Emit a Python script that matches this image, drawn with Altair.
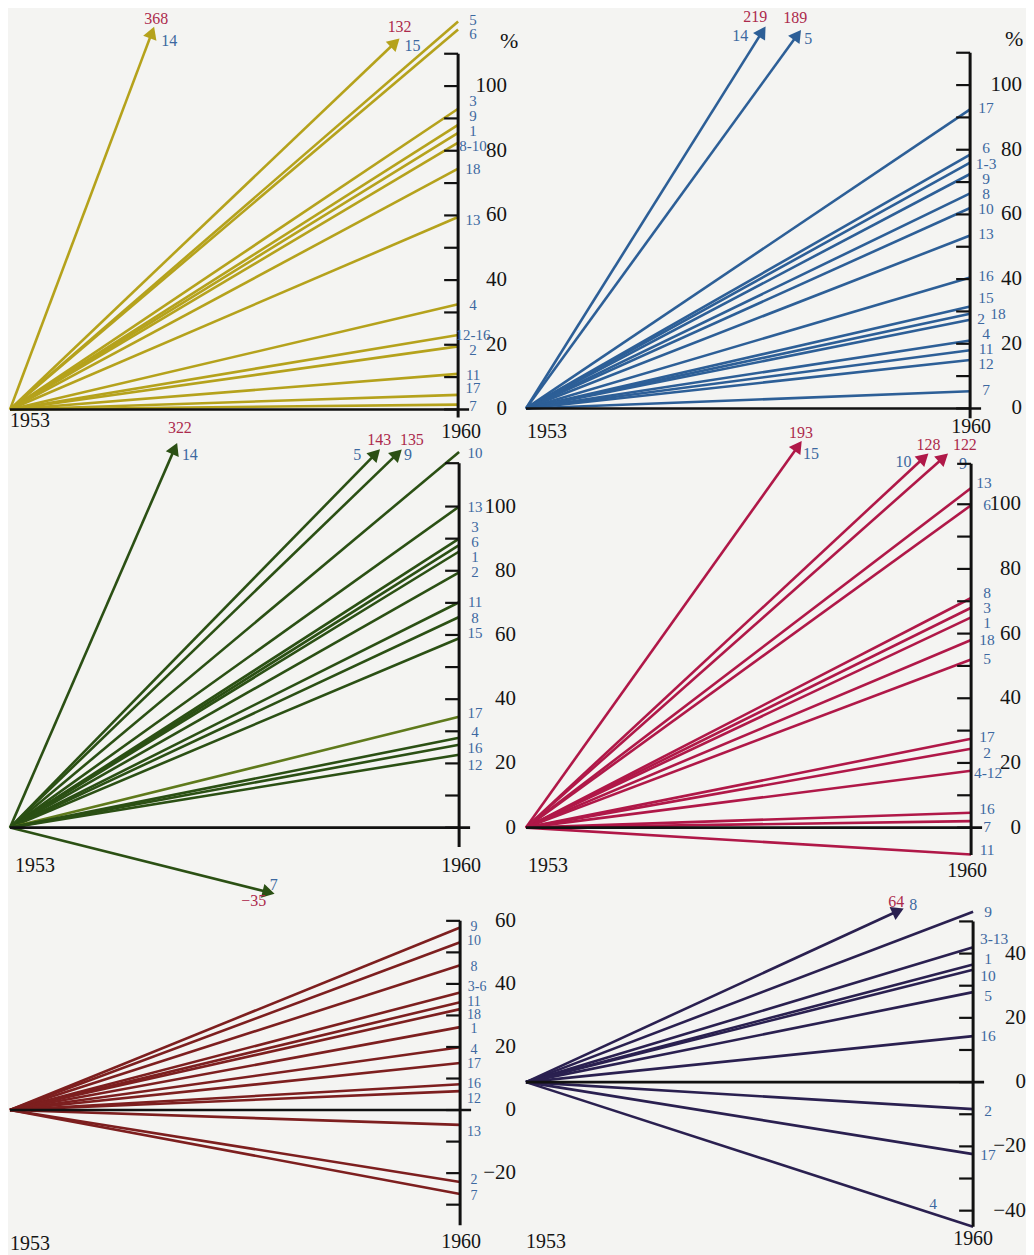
import math
import altair as alt
import pandas as pd

# ---------------- data ----------------
# Panel 1 (top left)
p1_names = ["5", "6", "3", "9", "1", "8-10", "18", "13", "4", "12-16", "2", "11", "17", "7"]
p1_values = [120, 117.5, 93, 88, 85.5, 82.5, 74.5, 59.5, 32.5, 23, 19.5, 11, 4.5, 1.5]
p1_label_y = [120.4, 116, 95.4, 90.7, 86.1, 81.5, 74.4, 58.6, 32.4, 23.1, 18.5, 10.8, 6.5, 1.2]
p1_arrow_names = ["14", "15"]
p1_arrow_values = [368, 132]

# Panel 2 (top right)
p2_names = ["17", "6", "1-3", "9", "8", "10", "13", "16", "15", "18", "2", "4", "11", "12", "7"]
p2_values = [92.5, 78.5, 76, 72.5, 66.5, 62, 53.5, 40.5, 31.5, 29.3, 27.4, 21, 18, 15, 5.3]
p2_label_y = [92.9, 80.6, 75.6, 71, 66.4, 61.7, 54, 41, 34.3, 29.3, 27.8, 23.1, 18.5, 13.6, 5.6]
p2_arrow_names = ["14", "5"]
p2_arrow_values = [219, 189]

# Panel 3 (middle left)
p3_names = ["10", "13", "3", "6", "1", "2", "11", "8", "15", "17", "4", "16", "12"]
p3_values = [117, 100, 90, 88, 86, 79.5, 70.2, 65.6, 59, 34.5, 28, 25.8, 22.7]
p3_label_y = [116.6, 100, 93.6, 88.9, 84.2, 79.5, 70.3, 65.3, 60.6, 35.7, 29.8, 24.9, 19.6]
p3_arrow_names = ["14", "5", "9", "7"]
p3_arrow_values = [322, 143, 135, -35]

# Panel 4 (middle right)
p4_names = ["13", "6", "8", "3", "1", "18", "5", "17", "2", "4-12", "16", "7", "11"]
p4_values = [105, 99.7, 71, 68, 65, 58, 52, 27.5, 24.4, 17.6, 4.6, 2, -8.3]
p4_label_y = [106.5, 99.7, 72.5, 67.9, 63.3, 58, 52.2, 28.1, 23.1, 17, 5.9, 0.3, -7.0]
p4_arrow_names = ["15", "10", "9"]
p4_arrow_values = [193, 128, 122]

# Panel 5 (bottom left)
p5_names = ["9", "10", "8", "3-6", "11", "18", "1", "4", "17", "16", "12", "13", "2", "7"]
p5_values = [57.9, 53.2, 45.9, 37.3, 34.2, 32, 26.3, 19.9, 14.9, 8.2, 6, -4.7, -22.8, -26.6]
p5_label_y = [58.2, 53.6, 45.3, 38.9, 34.3, 30.0, 25.6, 19, 14.6, 8.4, 3.6, -7, -22.3, -27.2]
p5_arrow_names = []
p5_arrow_values = []

# Panel 6 (bottom right)
p6_names = ["9", "3-13", "1", "10", "5", "16", "2", "17", "4"]
p6_values = [53, 42, 36.6, 35, 28, 14.3, -8.4, -22.4, -45]
p6_label_y = [52.8, 44.4, 38.2, 32.9, 26.7, 14.3, -9, -22.7, -37.9]
p6_arrow_names = ["8"]
p6_arrow_values = [64]

# axis tick labels
p1_tick_labels = [0, 20, 40, 60, 80, 100]
p2_tick_labels = [0, 20, 40, 60, 80, 100]
p3_tick_labels = [0, 20, 40, 60, 80, 100]
p4_tick_labels = [0, 20, 40, 60, 80, 100]
p5_tick_labels = [-20, 0, 20, 40, 60]
p6_tick_labels = [-40, -20, 0, 20, 40]

# ---------------- layout / style ----------------
FONT = "Liberation Serif"
BLUE_TXT = "#3c68a0"
RED_TXT = "#ac2a4c"
BG = "#f4f4f2"

G = [
    dict(cell=(8, 8, 509, 417), origin=(10, 409), axis_x=459, s=3.24, color="#b5a21c",
         axis_range=(-2.5, 110), ticks=list(range(0, 111, 10)), tick_dx=49,
         label_dx=15, label_size=15, over={}, color_over={},
         arrows=[(116, (5, -15), (18, 7)), (113, (6, -17), (19, 2))],
         y1953=(20, 12), y1960=(3, 23), pct=(51, -369)),
    dict(cell=(517, 8, 509, 417), origin=(527, 408), axis_x=972, s=3.24, color="#2d5f97",
         axis_range=(-3, 110), ticks=list(range(0, 111, 10)), tick_dx=52,
         label_dx=16, label_size=15.5, over={"18": 28, "2": 11}, color_over={},
         arrows=[(116, (-6, -16), (-21, 3)), (115, (-1, -19), (12, 2))],
         y1953=(21, 24), y1960=(1, 19), pct=(44, -370)),
    dict(cell=(8, 425, 509, 455), origin=(10, 828), axis_x=460, s=3.217, color="#2b5014",
         axis_range=(-6, 113.5), ticks=list(range(0, 101, 10)) + [113.5], tick_dx=57,
         label_dx=16, label_size=15, over={}, color_over={"17": "#5f7a1c"},
         arrows=[(117.5, (6, -22), (16, 5)), (116, (5, -15), (-17, 0)),
                 (116, (16, -15), (12, 0)), (-20, (-13, 9), (7, -7))],
         y1953=(25, 38), y1960=(2, 38), pct=None),
    dict(cell=(517, 425, 509, 455), origin=(527, 828), axis_x=973, s=3.24, color="#b01848",
         axis_range=(-8.5, 112.5), ticks=list(range(0, 101, 10)) + [112.5], tick_dx=50,
         label_dx=16, label_size=15.5, over={"4-12": 17, "13": 13}, color_over={},
         arrows=[(117.5, (4, -15), (14, 6)), (114, (6, -14), (-19, 3)), (114, (23, -14), (21, 5))],
         y1953=(22, 38), y1960=(-4, 43), pct=None),
    dict(cell=(8, 880, 509, 375), origin=(10, 1111), axis_x=461, s=3.16, color="#7d1f1f",
         axis_range=(-36.5, 60), ticks=list(range(-30, 61, 10)), tick_dx=56,
         label_dx=14, label_size=14, over={"3-6": 17}, color_over={},
         arrows=[],
         y1953=(20, 134), y1960=(1, 132), pct=None),
    dict(cell=(517, 880, 509, 375), origin=(527, 1083), axis_x=975, s=3.22, color="#2a2050",
         axis_range=(-45, 50), ticks=list(range(-40, 51, 10)), tick_dx=53,
         label_dx=15, label_size=15.5, over={"3-13": 21, "4": -40}, color_over={},
         arrows=[(53, (0, -10), (17, -7))],
         y1953=(20, 160), y1960=(0, 157), pct=None),
]

PANELS = [
    (p1_names, p1_values, p1_label_y, p1_arrow_names, p1_arrow_values, p1_tick_labels),
    (p2_names, p2_values, p2_label_y, p2_arrow_names, p2_arrow_values, p2_tick_labels),
    (p3_names, p3_values, p3_label_y, p3_arrow_names, p3_arrow_values, p3_tick_labels),
    (p4_names, p4_values, p4_label_y, p4_arrow_names, p4_arrow_values, p4_tick_labels),
    (p5_names, p5_values, p5_label_y, p5_arrow_names, p5_arrow_values, p5_tick_labels),
    (p6_names, p6_values, p6_label_y, p6_arrow_names, p6_arrow_values, p6_tick_labels),
]


def fmt_num(v):
    return ("\u2212" + str(-v)) if v < 0 else str(v)


def build_panel(g, names, values, label_y, a_names, a_values, tick_labels):
    X0, Y0, W, H = g["cell"]
    ox, oy = g["origin"]
    s = g["s"]
    ppy = (g["axis_x"] - ox) / 7.0
    xmin = 1953 - (ox - X0) / ppy
    xmax = xmin + W / ppy
    ymax = (oy - Y0) / s
    ymin = ymax - H / s
    xs = alt.Scale(domain=[xmin, xmax], nice=False, zero=False)
    ys = alt.Scale(domain=[ymin, ymax], nice=False, zero=False)

    def X(f):
        return alt.X(f, type="quantitative", scale=xs, axis=None)

    def Y(f):
        return alt.Y(f, type="quantitative", scale=ys, axis=None)

    def rule_layer(df, width, color=None):
        enc = dict(x=X("x0"), y=Y("y0"), x2="x1:Q", y2="y1:Q")
        if color is None:
            enc["color"] = alt.Color("col:N", scale=None)
            return alt.Chart(df).mark_rule(strokeWidth=width, strokeCap="butt").encode(**enc)
        return alt.Chart(df).mark_rule(strokeWidth=width, color=color, strokeCap="butt").encode(**enc)

    def text_layer(df, color, size, align="center"):
        return alt.Chart(df).mark_text(font=FONT, fontSize=size, color=color, align=align,
                                       baseline="middle").encode(x=X("x"), y=Y("y"), text="t:N")

    layers = []
    # data lines
    lines = pd.DataFrame({
        "x0": 1953.0, "y0": 0.0, "x1": 1960.0, "y1": values,
        "col": [g["color_over"].get(n, g["color"]) for n in names],
    })
    layers.append(rule_layer(lines, 2.6))

    # arrows (off the scale)
    if a_names:
        rows, heads, red, blue = [], [], [], []
        for n, v, (cut, roff, boff) in zip(a_names, a_values, g["arrows"]):
            tx = 1953 + 7.0 * cut / v
            rows.append(dict(x0=1953.0, y0=0.0, x1=tx, y1=cut, col=g["color"]))
            ang = (math.degrees(math.atan2(7 * ppy, v * s)) + 360) % 360
            heads.append(dict(x=tx, y=cut, ang=ang))
            red.append(dict(x=tx + roff[0] / ppy, y=cut - roff[1] / s, t=fmt_num(v)))
            blue.append(dict(x=tx + boff[0] / ppy, y=cut - boff[1] / s, t=n))
        layers.append(rule_layer(pd.DataFrame(rows), 2.6))
        layers.append(
            alt.Chart(pd.DataFrame(heads)).mark_point(shape="triangle", filled=True, size=200,
                                                      opacity=1, color=g["color"], strokeWidth=0)
            .encode(x=X("x"), y=Y("y"), angle=alt.Angle("ang:Q", scale=None)))
        layers.append(text_layer(pd.DataFrame(red), RED_TXT, 16))
        layers.append(text_layer(pd.DataFrame(blue), BLUE_TXT, 16))

    # baseline, axis line, ticks
    base = pd.DataFrame([dict(x0=1953.0, y0=0.0, x1=1960 + 11 / ppy, y1=0.0)])
    layers.append(rule_layer(base, 2.6, "#111111"))
    lo, hi = g["axis_range"]
    axis_df = pd.DataFrame([dict(x0=1960.0, y0=lo, x1=1960.0, y1=hi)])
    layers.append(rule_layer(axis_df, 3, "#111111"))
    ticks = pd.DataFrame({"x0": 1960 - 14 / ppy, "y0": g["ticks"], "x1": 1960.0, "y1": g["ticks"]})
    layers.append(rule_layer(ticks, 2.2, "#111111"))

    # tick labels
    tl = pd.DataFrame({"x": 1960 + g["tick_dx"] / ppy, "y": tick_labels,
                       "t": [fmt_num(v) for v in tick_labels]})
    layers.append(text_layer(tl, "#151515", 21, align="right"))

    # series number labels
    lab = pd.DataFrame({
        "x": [1960 + g["over"].get(n, g["label_dx"]) / ppy for n in names],
        "y": label_y, "t": names,
    })
    layers.append(text_layer(lab, BLUE_TXT, g["label_size"]))

    # year labels and percent sign
    yl = pd.DataFrame([
        dict(x=1953 + g["y1953"][0] / ppy, y=-g["y1953"][1] / s, t="1953"),
        dict(x=1960 + g["y1960"][0] / ppy, y=-g["y1960"][1] / s, t="1960"),
    ])
    layers.append(text_layer(yl, "#151515", 20))
    if g["pct"]:
        pc = pd.DataFrame([dict(x=1960 + g["pct"][0] / ppy, y=-g["pct"][1] / s, t="%")])
        layers.append(text_layer(pc, "#151515", 22))

    return alt.layer(*layers).properties(width=W, height=H)


charts = [build_panel(g, *p) for g, p in zip(G, PANELS)]

chart = (
    alt.concat(*charts, columns=2, spacing=0, bounds="flush")
    .properties(padding=0, background=BG)
    .configure_view(stroke=None)
)

chart.save("out.html", embed_options={"renderer": "svg", "actions": False})
